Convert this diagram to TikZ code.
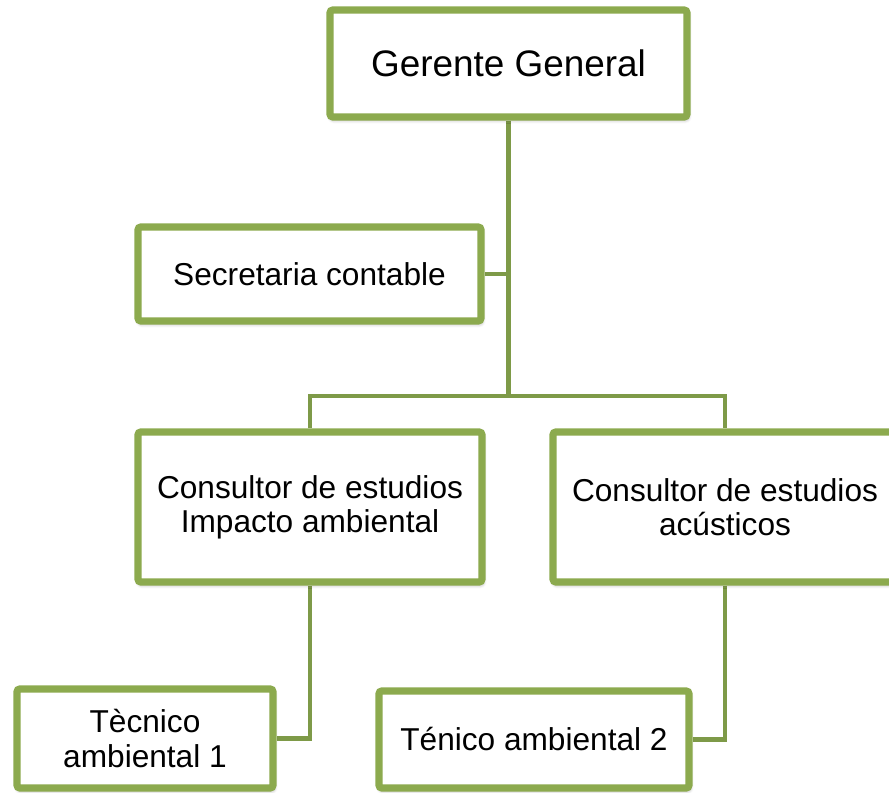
\documentclass[tikz,border=0pt]{standalone}
\usepackage{fontspec}
\setmainfont{Liberation Sans}
\usetikzlibrary{backgrounds,shadows.blur}
\definecolor{boxgreen}{HTML}{8CAA4E}
\definecolor{linegreen}{HTML}{7E9A48}
\tikzset{
	cargo/.style={draw=boxgreen, line width=4pt, fill=white, rounded corners=1.5pt,
		align=center, inner sep=2pt, font=\fontsize{18}{19.5}\selectfont,
		blur shadow={shadow xshift=0.6pt, shadow yshift=-1.6pt, shadow opacity=35, shadow blur steps=6}},
	conn/.style={draw=linegreen, line width=2.8pt}
}
\begin{document}
\begin{tikzpicture}
	\useasboundingbox (0,0) rectangle (17.78,-15.86);

	\node[cargo, minimum width=7.14cm, minimum height=2.14cm, font=\fontsize{21}{24}\selectfont] (gerente) at (10.17,-1.27) {Gerente General};
	\node[cargo, minimum width=6.86cm, minimum height=1.88cm] (secretaria) at (6.19,-5.48) {Secretaria contable};
	\node[cargo, minimum width=6.88cm, minimum height=3.0cm] (consimpacto) at (6.2,-10.14) {Consultor de estudios\\Impacto ambiental};
	\node[cargo, minimum width=6.88cm, minimum height=3.0cm] (consacust) at (14.5,-10.14) {Consultor de estudios\\acústicos};
	\node[cargo, minimum width=5.12cm, minimum height=1.98cm] (tecnico1) at (2.9,-14.77) {Tècnico\\ambiental 1};
	\node[cargo, minimum width=6.2cm, minimum height=1.94cm] (tecnico2) at (10.68,-14.79) {Ténico ambiental 2};

	\coordinate (bus) at (0,-7.92);
	\begin{pgfonlayer}{background}
		\draw[conn] (gerente.south) -- (gerente.south |- bus);
		\draw[conn] (secretaria.east) -- (secretaria.east -| gerente.south);
		\draw[conn] (consimpacto.north) -- (consimpacto.north |- bus) -- (consacust.north |- bus) -- (consacust.north);
		\draw[conn] (consimpacto.south) |- (tecnico1.east);
		\draw[conn] (consacust.south) |- (tecnico2.east);
	\end{pgfonlayer}
\end{tikzpicture}
\end{document}
